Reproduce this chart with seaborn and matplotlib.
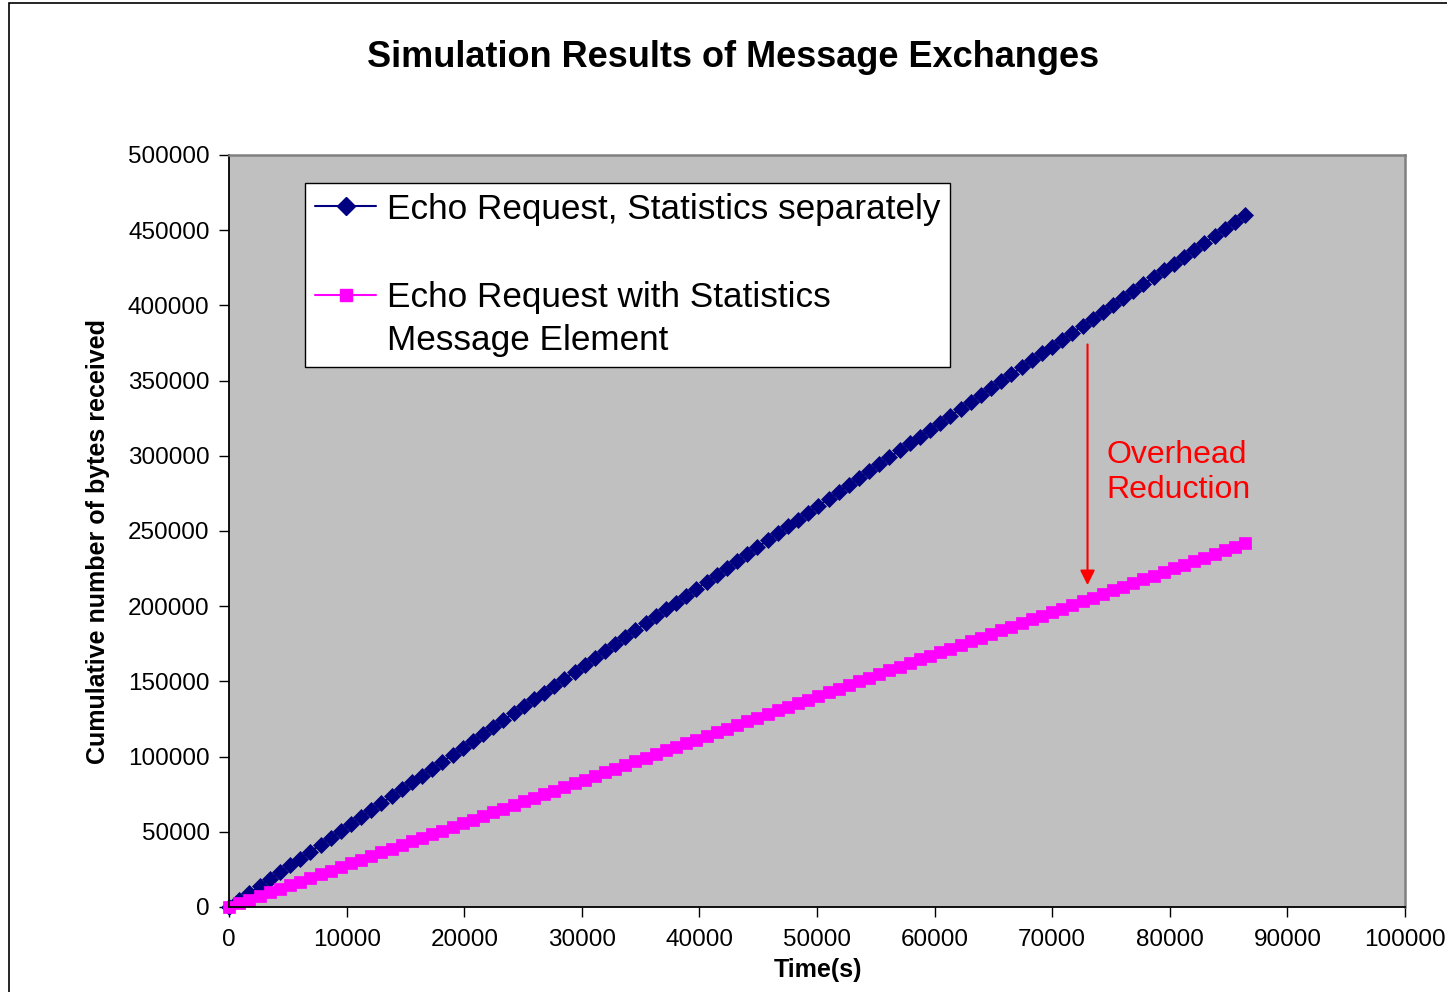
import matplotlib
matplotlib.use("Agg")
import matplotlib.pyplot as plt
import seaborn as sns
import pandas as pd
from matplotlib.lines import Line2D
from matplotlib.patches import Rectangle

# simulation time stamps (s), one sample every 864 s over a day
time_s = [
    0, 864, 1728, 2592, 3456, 4320, 5184, 6048, 6912, 7776,
    8640, 9504, 10368, 11232, 12096, 12960, 13824, 14688, 15552, 16416,
    17280, 18144, 19008, 19872, 20736, 21600, 22464, 23328, 24192, 25056,
    25920, 26784, 27648, 28512, 29376, 30240, 31104, 31968, 32832, 33696,
    34560, 35424, 36288, 37152, 38016, 38880, 39744, 40608, 41472, 42336,
    43200, 44064, 44928, 45792, 46656, 47520, 48384, 49248, 50112, 50976,
    51840, 52704, 53568, 54432, 55296, 56160, 57024, 57888, 58752, 59616,
    60480, 61344, 62208, 63072, 63936, 64800, 65664, 66528, 67392, 68256,
    69120, 69984, 70848, 71712, 72576, 73440, 74304, 75168, 76032, 76896,
    77760, 78624, 79488, 80352, 81216, 82080, 82944, 83808, 84672, 85536,
    86400,
]

# cumulative bytes received, in thousands
separate_kb = [
    0, 4.6, 9.2, 13.8, 18.4, 23.0, 27.6, 32.2, 36.8, 41.4,
    46.0, 50.6, 55.2, 59.8, 64.4, 69.0, 73.6, 78.2, 82.8, 87.4,
    92.0, 96.6, 101.2, 105.8, 110.4, 115.0, 119.6, 124.2, 128.8, 133.4,
    138.0, 142.6, 147.2, 151.8, 156.4, 161.0, 165.6, 170.2, 174.8, 179.4,
    184.0, 188.6, 193.2, 197.8, 202.4, 207.0, 211.6, 216.2, 220.8, 225.4,
    230.0, 234.6, 239.2, 243.8, 248.4, 253.0, 257.6, 262.2, 266.8, 271.4,
    276.0, 280.6, 285.2, 289.8, 294.4, 299.0, 303.6, 308.2, 312.8, 317.4,
    322.0, 326.6, 331.2, 335.8, 340.4, 345.0, 349.6, 354.2, 358.8, 363.4,
    368.0, 372.6, 377.2, 381.8, 386.4, 391.0, 395.6, 400.2, 404.8, 409.4,
    414.0, 418.6, 423.2, 427.8, 432.4, 437.0, 441.6, 446.2, 450.8, 455.4,
    460.0,
]
combined_kb = [
    0, 2.4, 4.8, 7.3, 9.7, 12.1, 14.5, 16.9, 19.4, 21.8,
    24.2, 26.6, 29.0, 31.5, 33.9, 36.3, 38.7, 41.1, 43.6, 46.0,
    48.4, 50.8, 53.2, 55.7, 58.1, 60.5, 62.9, 65.3, 67.8, 70.2,
    72.6, 75.0, 77.4, 79.9, 82.3, 84.7, 87.1, 89.5, 92.0, 94.4,
    96.8, 99.2, 101.6, 104.1, 106.5, 108.9, 111.3, 113.7, 116.2, 118.6,
    121.0, 123.4, 125.8, 128.3, 130.7, 133.1, 135.5, 137.9, 140.4, 142.8,
    145.2, 147.6, 150.0, 152.5, 154.9, 157.3, 159.7, 162.1, 164.6, 167.0,
    169.4, 171.8, 174.2, 176.7, 179.1, 181.5, 183.9, 186.3, 188.8, 191.2,
    193.6, 196.0, 198.4, 200.9, 203.3, 205.7, 208.1, 210.5, 213.0, 215.4,
    217.8, 220.2, 222.6, 225.1, 227.5, 229.9, 232.3, 234.7, 237.2, 239.6,
    242.0,
]
assert len(time_s) == len(separate_kb) == len(combined_kb)

x_ticks = [0, 10000, 20000, 30000, 40000, 50000, 60000, 70000, 80000, 90000, 100000]
y_ticks = [0, 50000, 100000, 150000, 200000, 250000, 300000, 350000, 400000, 450000, 500000]

label_sep = "Echo Request, Statistics separately"
label_comb_1 = "Echo Request with Statistics"
label_comb_2 = "Message Element"

# arrow between the two curves
arrow_x = 73000
arrow_from = 374000
arrow_to = 214000

NAVY = "#000080"
MAGENTA = "#FF00FF"

df = pd.DataFrame({
    "time": time_s,
    "separate": [v * 1000 for v in separate_kb],
    "combined": [v * 1000 for v in combined_kb],
})

sns.set_theme(style="white")
plt.rcParams["font.family"] = ["Liberation Sans", "DejaVu Sans"]
plt.rcParams["text.color"] = "black"
plt.rcParams["axes.labelcolor"] = "black"

fig = plt.figure(figsize=(14.47, 9.92), dpi=100)
ax = fig.add_axes([0.1583, 0.0857, 0.8127, 0.7581])
ax.set_facecolor("#C0C0C0")

sns.lineplot(data=df, x="time", y="separate", ax=ax, color=NAVY, linewidth=1.5,
             marker="D", markersize=8.5, markeredgecolor=NAVY, markeredgewidth=0.5,
             estimator=None, clip_on=False)
sns.lineplot(data=df, x="time", y="combined", ax=ax, color=MAGENTA, linewidth=1.5,
             marker="s", markersize=8, markeredgecolor=MAGENTA, markeredgewidth=0.5,
             estimator=None, clip_on=False)

ax.set_xlim(0, 100000)
ax.set_ylim(0, 500000)
ax.set_xticks(x_ticks)
ax.set_yticks(y_ticks)
ax.set_xticklabels([str(t) for t in x_ticks])
ax.set_yticklabels([str(t) for t in y_ticks])
ax.tick_params(axis="both", direction="out", length=7, width=1, color="black",
               labelsize=17.5, labelcolor="black")
ax.tick_params(axis="x", pad=9, bottom=True)
ax.tick_params(axis="y", pad=7, left=True)

for side in ("left", "bottom"):
    ax.spines[side].set_color("black")
    ax.spines[side].set_linewidth(1.3)
for side in ("top", "right"):
    ax.spines[side].set_color("#808080")
    ax.spines[side].set_linewidth(1.8)

ax.set_xlabel("Time(s)", fontsize=18, fontweight="bold")
ax.set_ylabel("Cumulative number of bytes received", fontsize=18,
              fontweight="bold")
ax.xaxis.set_label_coords(0.5009, -0.068)
ax.yaxis.set_label_coords(-0.101, 0.486)

# legend: blank rows give the wide gap and the two-line second label
blank = Line2D([], [], linestyle="none")
handles = [
    Line2D([], [], color=NAVY, lw=1.5, marker="D", markersize=9,
           markeredgecolor=NAVY),
    blank,
    Line2D([], [], color=MAGENTA, lw=1.5, marker="s", markersize=9,
           markeredgecolor=MAGENTA),
    blank,
]
labels = [label_sep, " ", label_comb_1, label_comb_2]
leg = ax.legend(handles, labels, loc="upper left", bbox_to_anchor=(0.0646, 0.963),
                borderaxespad=0, fontsize=25.3, frameon=True, fancybox=False,
                framealpha=1, edgecolor="black", borderpad=0.28,
                handlelength=1.75, handletextpad=0.3, labelspacing=0.28)
leg.get_frame().set_linewidth(1.0)
leg.get_texts()[1].set_fontsize(28)

ax.annotate("", xy=(arrow_x, arrow_to), xytext=(arrow_x, arrow_from),
            arrowprops=dict(arrowstyle="-|>", color="red", lw=1.5,
                            mutation_scale=22, shrinkA=0, shrinkB=0))
ax.text(74600, 289000, "Overhead\nReduction", color="red", fontsize=23,
        ha="left", va="center", linespacing=1.2)

fig.text(0.5066, 0.9425, "Simulation Results of Message Exchanges",
         fontsize=26, fontweight="bold", ha="center", va="center")

# outer chart border (cropped on the right and bottom)
fig.add_artist(Rectangle((9 / 1447, -0.01), 1.0, 1.01 - 3 / 992, fill=False,
                         edgecolor="black", linewidth=1.2,
                         transform=fig.transFigure))

fig.savefig("out.png", dpi=100)
